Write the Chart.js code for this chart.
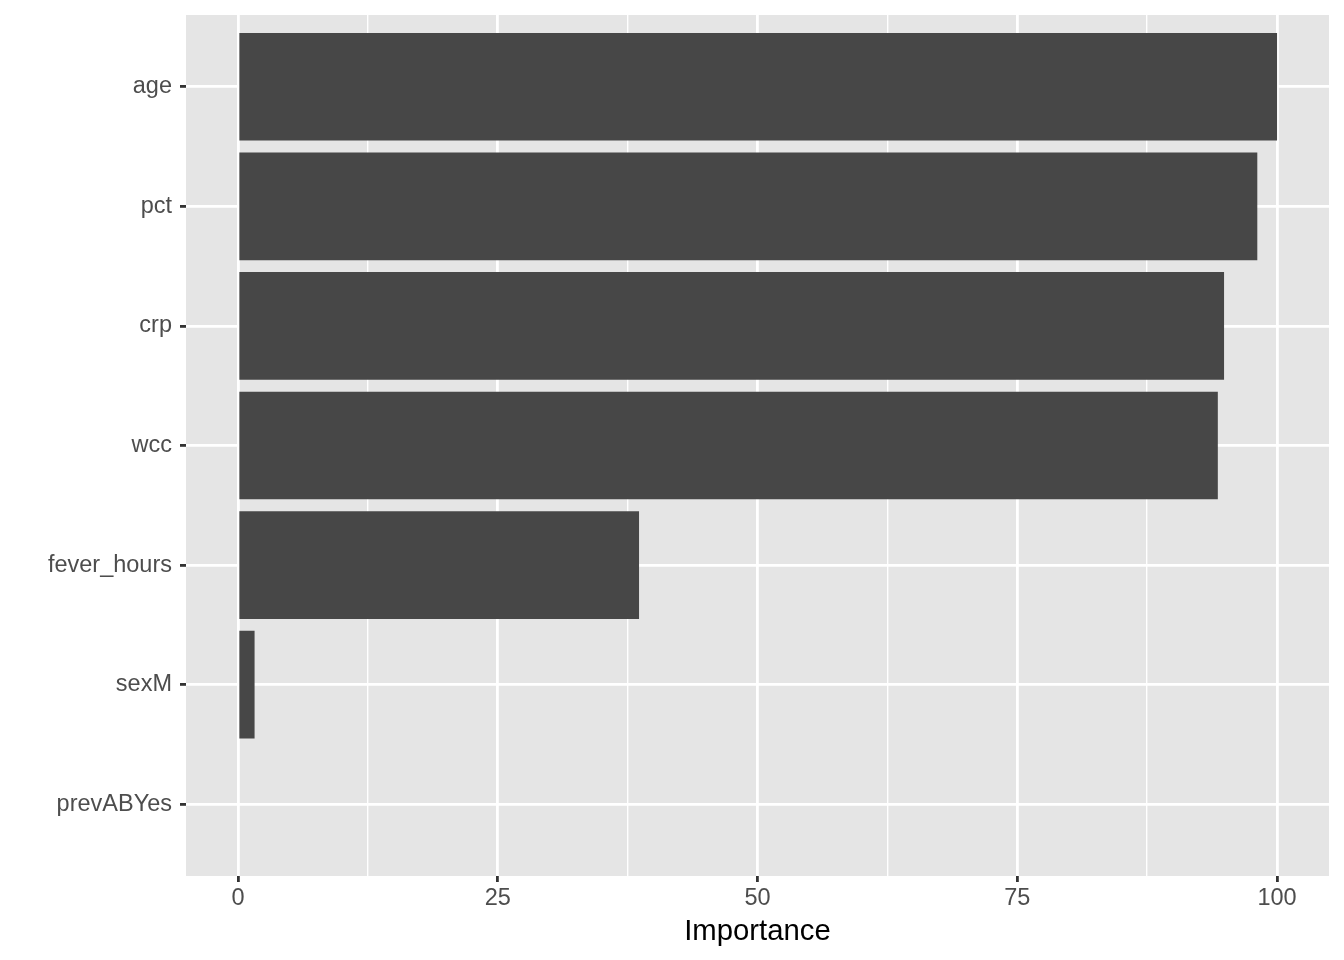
<!DOCTYPE html>
<html>
<head>
<meta charset="utf-8">
<script src="https://cdn.jsdelivr.net/npm/chart.js@4/dist/chart.umd.min.js"></script>
<style>
  html, body { margin: 0; padding: 0; background: #ffffff; }
  #wrap { width: 1344px; height: 960px; }
</style>
</head>
<body>
<div id="wrap"><canvas id="c" width="1344" height="960"></canvas></div>
<script>
const categories = ["age", "pct", "crp", "wcc", "fever_hours", "sexM", "prevABYes"];
const importance = [100, 98.1, 94.9, 94.3, 38.6, 1.6, 0];
const xMajorTicks = [0, 25, 50, 75, 100];
const xMinorTicks = [12.5, 37.5, 62.5, 87.5];
const axisTitle = "Importance";

const FONT = '"Liberation Sans", Arial, Helvetica, sans-serif';
const n = categories.length;
const points = categories.map((c, i) => ({ x: importance[i], y: n - i }));

const panelBg = {
  id: 'panelBg',
  beforeDraw(chart) {
    const a = chart.chartArea, ctx = chart.ctx;
    ctx.save();
    ctx.fillStyle = '#E5E5E5';
    ctx.fillRect(a.left, a.top, a.right - a.left, a.bottom - a.top);
    ctx.restore();
  }
};

const isMajor = v => xMajorTicks.includes(v);

new Chart(document.getElementById('c'), {
  type: 'bar',
  data: {
    datasets: [{
      data: points,
      backgroundColor: '#474747',
      borderWidth: 0,
      categoryPercentage: 1,
      barPercentage: 0.9
    }]
  },
  plugins: [panelBg],
  options: {
    indexAxis: 'y',
    responsive: false,
    animation: false,
    layout: { padding: { top: 15, right: 15, left: 0, bottom: 0 } },
    plugins: { legend: { display: false }, tooltip: { enabled: false } },
    scales: {
      x: {
        type: 'linear',
        min: -5,
        max: 105,
        offset: false,
        afterBuildTicks: s => {
          s.ticks = xMajorTicks.concat(xMinorTicks).sort((a, b) => a - b).map(v => ({ value: v }));
        },
        afterFit: s => { s.height = 84; s.paddingLeft = 0; s.paddingRight = 0; },
        border: { display: false },
        grid: {
          offset: false,
          color: '#FFFFFF',
          lineWidth: ctx => (ctx.tick && isMajor(ctx.tick.value)) ? 2.8 : 1.4,
          drawTicks: true,
          tickLength: 6,
          tickWidth: 2.8,
          tickColor: ctx => (ctx.tick && isMajor(ctx.tick.value)) ? '#333333' : 'rgba(0,0,0,0)'
        },
        ticks: {
          autoSkip: false,
          maxRotation: 0,
          padding: 2,
          color: '#4D4D4D',
          font: { family: FONT, size: 23.5 },
          callback: v => isMajor(v) ? String(v) : ''
        },
        title: {
          display: true,
          text: axisTitle,
          color: '#000000',
          font: { family: FONT, size: 29.3 },
          padding: { top: 0, bottom: 11 }
        }
      },
      y: {
        type: 'linear',
        min: 0.4,
        max: n + 0.6,
        offset: false,
        afterBuildTicks: s => {
          s.ticks = categories.map((c, i) => ({ value: n - i }));
        },
        afterFit: s => { s.width = 186; s.paddingTop = 0; s.paddingBottom = 0; },
        border: { display: false },
        grid: {
          offset: false,
          color: '#FFFFFF',
          lineWidth: 2.8,
          drawTicks: true,
          tickLength: 6,
          tickWidth: 2.8,
          tickColor: '#333333'
        },
        ticks: {
          autoSkip: false,
          padding: 8,
          color: '#4D4D4D',
          font: { family: FONT, size: 23.5 },
          callback: v => categories[n - v]
        }
      }
    }
  }
});
</script>
</body>
</html>
